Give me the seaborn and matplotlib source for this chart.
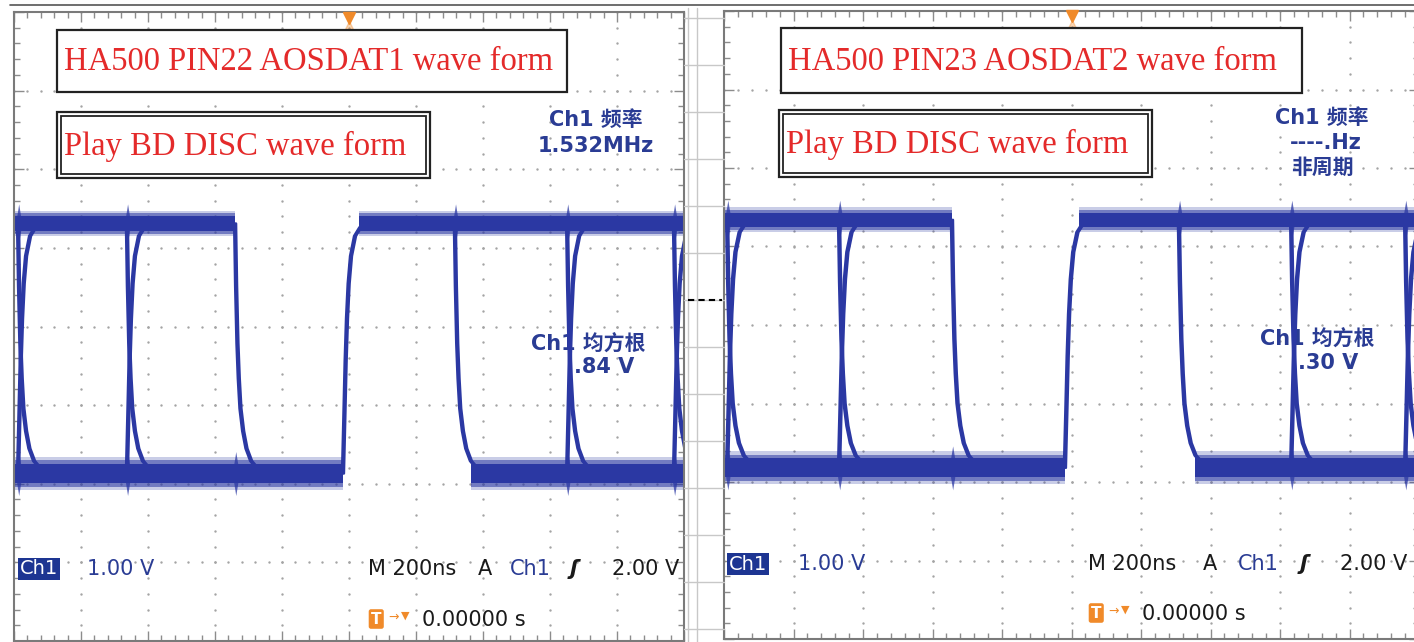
import numpy as np
import pandas as pd
import matplotlib.pyplot as plt
import matplotlib.patches as mpatches
from matplotlib.lines import Line2D
import seaborn as sns

# estilo base, depois a lista de fontes (set_theme redefine font.family)
sns.set_theme(style="white")
plt.rcParams['font.family'] = ['DejaVu Sans', 'Noto Sans CJK SC']

W, H = 1414, 642

# eixo do tempo em ns: 200 ns/div, 10 divisões, trigger em 0
t_min, t_max = -1000, 1000
trigger_time = 0

# painel esquerdo (AOSDAT1), tensões em V
left_low, left_high = 0.0, 3.18
left_center = 1.87
left_high_segments = [(-1000, -340), (30, 1000)]
left_low_segments = [(-1000, -18), (365, 1000)]
left_rise = [-18]
left_fall = [-340, 316]
left_both = [-988, -663, 651, 970]

# painel direito (AOSDAT2)
right_low, right_high = 0.0, 3.16
right_center = 1.82
right_high_segments = [(-1000, -344), (22, 1000)]
right_low_segments = [(-1000, -19), (355, 1000)]
right_rise = [-19]
right_fall = [-344, 309]
right_both = [-991, -669, 632, 960]

# forma das bordas lida no traço: ns após o início, fração da excursão
rise_dt = [0, 4, 8, 12, 17, 24, 36, 52, 75]
rise_frac = [0, 0.22, 0.45, 0.62, 0.76, 0.87, 0.95, 0.985, 1.0]
fall_dt = [0, 3, 7, 11, 16, 24, 34, 48, 70, 100]
fall_frac = [0, 0.25, 0.48, 0.62, 0.74, 0.83, 0.9, 0.95, 0.985, 1.0]
edge_jitter = [-3, 0, 3]

# espessura das faixas de ruído (meias larguras em V, com opacidade) e picos
high_layers = [(0.16, 0.25), (0.13, 0.55), (0.09, 1.0)]
low_layers = [(0.21, 0.25), (0.17, 0.55), (0.12, 1.0)]
glitch = 0.16

trace_blue = '#2b38a3'
text_blue = '#2a3c94'
orange = '#f08a2a'
dot_grey = '#a4a4a4'


def fxy(x, y):
    return x / W, 1 - y / H


def edge_rows(starts, kind, low, high, tag):
    rows = []
    dts, frs = (rise_dt, rise_frac) if kind == 'rise' else (fall_dt, fall_frac)
    for i, t0 in enumerate(starts):
        for j in edge_jitter:
            for d, f in zip(dts, frs):
                v = low + f * (high - low) if kind == 'rise' else high - f * (high - low)
                rows.append({'trace': f'{tag}{kind}{i}_{j}', 't': t0 + j + d, 'v': v})
    return rows


def band(ax, segments, level, layers, spikes):
    core = layers[-1][0]
    for a, b in segments:
        for hw, alpha in layers:
            ax.fill_between([a, b], level - hw, level + hw, color=trace_blue, alpha=alpha, lw=0, zorder=1)
        for t in spikes:
            if a < t < b:
                xs = [t - 4, t + 2, t + 8]
                ax.fill_between(xs, [level - core, level - core - glitch, level - core],
                                [level + core, level + core + glitch, level + core],
                                color=trace_blue, alpha=0.75, lw=0, zorder=1)


def scope_panel(ax, center, low, high, hi_seg, lo_seg, rises, falls, both, tag):
    ylo, yhi = center - 4, center + 4
    ax.set_xlim(t_min, t_max)
    ax.set_ylim(ylo, yhi)
    ax.set_facecolor('white')

    # retícula pontilhada
    for x in np.arange(t_min + 200, t_max, 200):
        ys = np.arange(ylo, yhi + 0.01, 0.2)
        ax.scatter(np.full_like(ys, x), ys, s=3, color=dot_grey, lw=0, zorder=0.5)
    for k in range(1, 8):
        xs = np.arange(t_min, t_max + 1, 40)
        ax.scatter(xs, np.full(len(xs), ylo + k), s=3, color=dot_grey, lw=0, zorder=0.5)

    ax.set_xticks(np.arange(t_min, t_max + 1, 200))
    ax.set_xticks(np.arange(t_min, t_max + 1, 40), minor=True)
    ax.set_yticks(np.arange(ylo, yhi + 0.01, 1.0))
    ax.set_yticks(np.arange(ylo, yhi + 0.01, 0.2), minor=True)
    ax.tick_params(which='both', direction='in', top=True, right=True, bottom=True, left=True,
                   labelbottom=False, labelleft=False, color='#8c8c8c', width=1)
    ax.tick_params(which='major', length=7)
    ax.tick_params(which='minor', length=4)
    for s in ax.spines.values():
        s.set_color('#7a7a7a')
        s.set_linewidth(1.5)

    spikes = rises + falls + both
    band(ax, hi_seg, high, high_layers, spikes)
    band(ax, lo_seg, low, low_layers, spikes)

    rows = edge_rows(rises + both, 'rise', low, high, tag) + edge_rows(falls + both, 'fall', low, high, tag)
    df = pd.DataFrame(rows)
    sns.lineplot(data=df, x='t', y='v', units='trace', estimator=None, sort=False,
                 color=trace_blue, lw=1.7, ax=ax, legend=False, zorder=2)
    ax.set_xlabel('')
    ax.set_ylabel('')

    # marcador da posição do trigger no topo
    ax.plot([trigger_time], [yhi - 0.07], marker='v', ms=8, color=orange, clip_on=False, zorder=5)
    ax.plot([trigger_time], [yhi - 0.17], marker='^', ms=6, color=orange, alpha=0.35, clip_on=False, zorder=5)


fig = plt.figure(figsize=(W / 100, H / 100), dpi=100)
fig.patch.set_facecolor('white')

ax_l = fig.add_axes([14 / W, 1 / H, 670 / W, 629 / H])
ax_r = fig.add_axes([724 / W, 3 / H, 695 / W, 628 / H])

scope_panel(ax_l, left_center, left_low, left_high, left_high_segments, left_low_segments,
            left_rise, left_fall, left_both, 'L')
scope_panel(ax_r, right_center, right_low, right_high, right_high_segments, right_low_segments,
            right_rise, right_fall, right_both, 'R')

# faixa entre as duas telas
for y in range(18, 642, 47):
    fig.add_artist(Line2D([684 / W, 724 / W], [1 - y / H] * 2, color='#c8c8c8', lw=1))
for x in [688, 697]:
    fig.add_artist(Line2D([x / W] * 2, [0, 1 - 8 / H], color='#c8c8c8', lw=1))
fig.add_artist(Line2D([688 / W, 722 / W], [1 - 300 / H] * 2, color='black', lw=1.5, ls=(0, (3, 2))))
fig.add_artist(Line2D([10 / W, 1], [1 - 5 / H] * 2, color='#555555', lw=1.2))


def title_box(x0, y0, x1, y1, text, double=False):
    fig.add_artist(mpatches.Rectangle(fxy(x0, y1), (x1 - x0) / W, (y1 - y0) / H,
                                      transform=fig.transFigure, fc='white', ec='#222222', lw=1.6))
    if double:
        fig.add_artist(mpatches.Rectangle(fxy(x0 + 4, y1 - 4), (x1 - x0 - 8) / W, (y1 - y0 - 8) / H,
                                          transform=fig.transFigure, fc='none', ec='#222222', lw=1.3))
    fig.text(*fxy(x0 + 7, (y0 + y1) / 2 + 1), text, color='#e42a2a', family='Liberation Serif',
             fontsize=23.5, ha='left', va='center')


title_box(57, 30, 567, 92, 'HA500 PIN22 AOSDAT1 wave form')
title_box(57, 112, 430, 178, 'Play BD DISC wave form', double=True)
title_box(781, 28, 1302, 93, 'HA500 PIN23 AOSDAT2 wave form')
title_box(779, 110, 1152, 177, 'Play BD DISC wave form', double=True)

blue_kw = dict(color=text_blue, fontsize=15, fontweight='bold', va='center')

# medições
fig.text(*fxy(596, 120), 'Ch1 频率', ha='center', **blue_kw)
fig.text(*fxy(596, 146), '1.532MHz', ha='center', **blue_kw)
fig.text(*fxy(1322, 118), 'Ch1 频率', ha='center', **blue_kw)
fig.text(*fxy(1326, 143), '----.Hz', ha='center', **blue_kw)
fig.text(*fxy(1322, 168), '非周期', ha='center', **blue_kw)

ax_l.text(*fxy(531, 345), 'Ch1 均方根', transform=fig.transFigure, ha='left', zorder=1.5, **blue_kw)
ax_l.text(*fxy(574, 367), '.84 V', transform=fig.transFigure, ha='left', zorder=1.5, **blue_kw)
ax_r.text(*fxy(1260, 340), 'Ch1 均方根', transform=fig.transFigure, ha='left', zorder=1.5, **blue_kw)
ax_r.text(*fxy(1298, 363), '.30 V', transform=fig.transFigure, ha='left', zorder=1.5, **blue_kw)


def status_line(x_badge, x_volt, x_m, x_a, x_ch, x_edge, x_lvl, y, x_t, y_t):
    fig.text(*fxy(x_badge, y), 'Ch1', color='white', fontsize=14, va='center', ha='left',
             bbox=dict(boxstyle='square,pad=0.1', fc='#1d3592', ec='none'))
    fig.text(*fxy(x_volt, y), '1.00 V', color=text_blue, fontsize=15, va='center', ha='left')
    fig.text(*fxy(x_m, y), 'M 200ns', color='#1a1a1a', fontsize=15, va='center', ha='left')
    fig.text(*fxy(x_a, y), 'A', color='#1a1a1a', fontsize=15, va='center', ha='left')
    fig.text(*fxy(x_ch, y), 'Ch1', color=text_blue, fontsize=15, va='center', ha='left')
    fig.text(*fxy(x_edge, y), 'ʃ', color='#1a1a1a', fontsize=15, fontweight='bold',
             fontstyle='italic', va='center', ha='left')
    fig.text(*fxy(x_lvl, y), '2.00 V', color='#1a1a1a', fontsize=15, va='center', ha='left')
    fig.text(*fxy(x_t, y_t), 'T', color='white', fontsize=11, fontweight='bold', va='center', ha='left',
             bbox=dict(boxstyle='round,pad=0.15', fc=orange, ec='none'))
    fig.text(*fxy(x_t + 17, y_t - 2), '→', color=orange, fontsize=9, va='center', ha='left')
    fig.text(*fxy(x_t + 30, y_t - 3), '▼', color=orange, fontsize=8, va='center', ha='left')
    fig.text(*fxy(x_t + 51, y_t + 1), '0.00000 s', color='#1a1a1a', fontsize=15, va='center', ha='left')


status_line(20, 87, 368, 478, 510, 570, 612, 569, 371, 619)
status_line(729, 798, 1088, 1203, 1238, 1300, 1340, 564, 1091, 613)

fig.savefig('out.png', dpi=100, facecolor='white')
